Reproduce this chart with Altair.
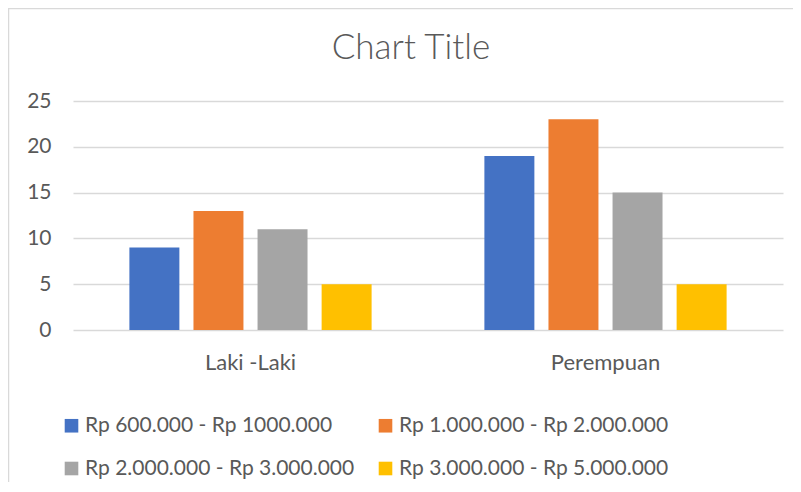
import altair as alt
import pandas as pd

groups = ["Laki -Laki", "Perempuan"]
series = [
    "Rp 600.000 - Rp 1000.000",
    "Rp 1.000.000 - Rp 2.000.000",
    "Rp 2.000.000 - Rp 3.000.000",
    "Rp 3.000.000 - Rp 5.000.000",
]
values_laki = [9, 13, 11, 5]
values_perempuan = [19, 23, 15, 5]
colors = ["#4472C4", "#ED7D31", "#A5A5A5", "#FFC000"]
y_ticks = [0, 5, 10, 15, 20, 25]
chart_title = "Chart Title"

rows = []
for g, vals in zip(groups, [values_laki, values_perempuan]):
    for s, v in zip(series, vals):
        rows.append({"group": g, "series": s, "value": v})
df = pd.DataFrame(rows)

FONT = "Lato"
TXT = "#595959"

bars = alt.Chart(df).mark_bar(strokeWidth=0).encode(
    x=alt.X("group:N", sort=groups, title=None,
            scale=alt.Scale(paddingInner=0, paddingOuter=0),
            axis=alt.Axis(labelAngle=0, domain=False, ticks=False, grid=False,
                          labelFont=FONT, labelFontSize=22, labelColor=TXT,
                          labelPadding=22)),
    xOffset=alt.XOffset("series:N", sort=series,
                        scale=alt.Scale(paddingInner=0.22, paddingOuter=0.88)),
    y=alt.Y("value:Q", title=None,
            scale=alt.Scale(domain=[0, 25], nice=False),
            axis=alt.Axis(values=y_ticks, domain=False, ticks=False,
                          grid=True, gridColor="#d9d9d9", gridWidth=1.3,
                          labelFont=FONT, labelFontSize=21, labelColor=TXT,
                          labelPadding=22)),
    color=alt.Color("series:N", sort=series,
                    scale=alt.Scale(domain=series, range=colors),
                    legend=alt.Legend(title=None, orient="none",
                                      direction="horizontal",
                                      legendX=-12, legendY=314,
                                      columns=2, symbolType="square",
                                      symbolSize=185, symbolStrokeWidth=0,
                                      labelFont=FONT, labelFontSize=21,
                                      labelColor=TXT, labelOffset=3,
                                      rowPadding=21, columnPadding=20,
                                      labelLimit=400)),
)

border_df = pd.DataFrame({"k": [0]})
border = alt.Chart(border_df).mark_rect(fill=None, stroke="#d9d9d9", strokeWidth=1.5).encode(
    x=alt.value(-64.5), x2=alt.value(760), y=alt.value(-92.5), y2=alt.value(420)
)

title_df = pd.DataFrame({"t": [chart_title]})
title = alt.Chart(title_df).mark_text(
    font=FONT, fontSize=35, fontWeight=300, color=TXT,
    align="center", baseline="alphabetic"
).encode(text="t:N", x=alt.value(338), y=alt.value(-42))

chart = alt.layer(border, title, bars).properties(
    width=710, height=229,
    padding={"left": 65, "top": 93, "right": 10, "bottom": 152},
    autosize=alt.AutoSizeParams(type="none"),
).configure_view(stroke=None)

chart.save("out.html", embed_options={"renderer": "svg", "actions": False})
